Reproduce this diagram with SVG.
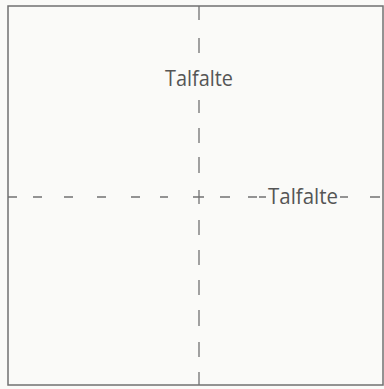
<svg xmlns="http://www.w3.org/2000/svg" width="384" height="389" viewBox="0 0 384 389">
<style>
.bg{fill:#fafaf8}
.frame{fill:none;stroke:#707070;stroke-width:1.5}
.fold{fill:none;stroke:#727272;stroke-width:1.3}
.lbl{font-family:"Open Sans","Liberation Sans",sans-serif;font-size:22px;fill:#555}
</style>
<rect class="bg" x="0" y="0" width="384" height="389"/>
<g id="sheet">
<rect class="frame" x="8" y="6" width="375" height="379"/>
</g>
<g id="connectors">
<path class="fold" d="M199 6V20 M199 38V53 M199 100V113 M199 128V143 M199 157V173 M199 190V204 M199 220V235 M199 250V265 M199 280V295 M199 310V326 M199 342V357 M199 372V385"/>
<path class="fold" d="M8 197H17 M33 197H42 M64 197H73 M97 197H106 M131 197H140 M160 197H168 M193 197H204 M220 197H230 M248 197H257 M259 197H266 M340 197H348 M370 197H380"/>
</g>
<g id="label-top">
<text class="lbl" x="199" y="86" text-anchor="middle" textLength="68" lengthAdjust="spacingAndGlyphs">Talfalte</text>
</g>
<g id="label-right">
<text class="lbl" x="268" y="204" textLength="70" lengthAdjust="spacingAndGlyphs">Talfalte</text>
</g>
</svg>
